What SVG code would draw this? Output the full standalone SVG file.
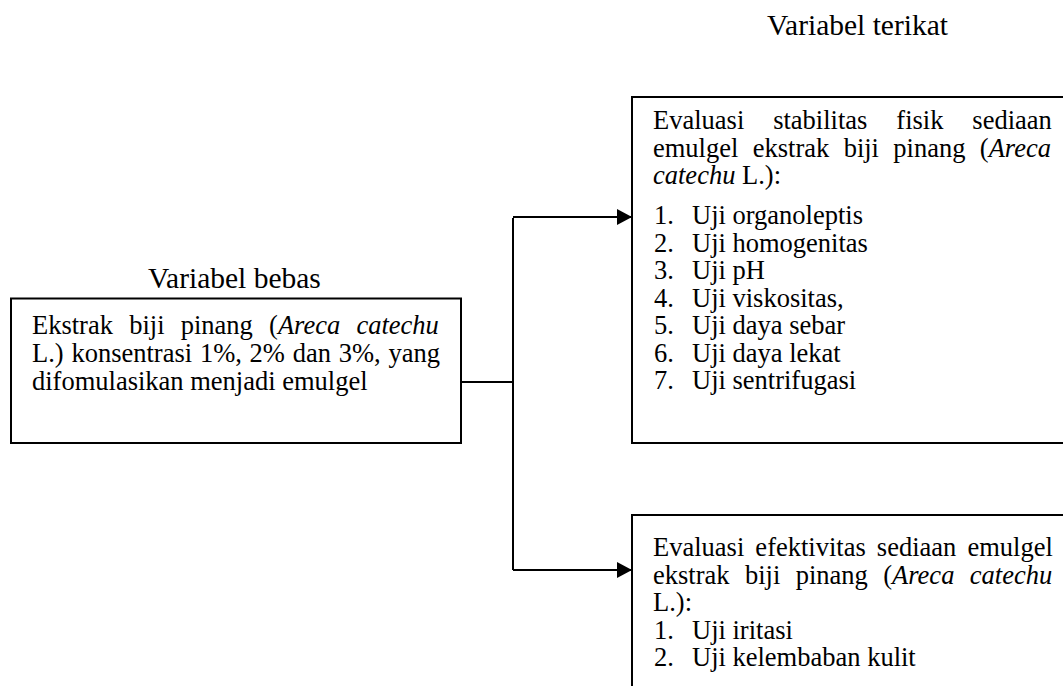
<svg xmlns="http://www.w3.org/2000/svg" width="1063" height="686" viewBox="0 0 1063 686">
<style>
text{font-family:"Liberation Serif","Times New Roman",serif;font-size:26.5px;fill:#000}
.lbl{font-size:29.5px}
.i{font-style:italic}
.box{fill:#fff;stroke:#000;stroke-width:2}
.ln{fill:none;stroke:#000;stroke-width:2}
</style>
<defs>
<marker id="ah" markerUnits="userSpaceOnUse" markerWidth="16" markerHeight="18" refX="15" refY="8" orient="auto">
<path d="M0,0 L15,8 L0,16 z" fill="#000"/>
</marker>
</defs>
<g id="label-terikat"><text class="lbl" x="767" y="35">Variabel terikat</text></g>
<g id="label-bebas"><text class="lbl" x="148" y="288">Variabel bebas</text></g>
<g id="node-bebas">
<rect class="box" x="11" y="298.5" width="450" height="144.5"/>
<text x="32" y="334" word-spacing="9.6">Ekstrak biji pinang (<tspan class="i">Areca catechu</tspan></text>
<text x="32" y="362" word-spacing="1.15">L.) konsentrasi 1%, 2% dan 3%, yang</text>
<text x="32" y="390">difomulasikan menjadi emulgel</text>
</g>
<g id="node-stabilitas">
<rect class="box" x="632" y="97" width="460" height="346"/>
<text x="653" y="129" word-spacing="22.3">Evaluasi stabilitas fisik sediaan</text>
<text x="653" y="156.5" word-spacing="7.75">emulgel ekstrak biji pinang (<tspan class="i">Areca</tspan></text>
<text x="653" y="184"><tspan class="i">catechu</tspan> L.):</text>
<text y="224"><tspan x="654">1.</tspan><tspan x="692">Uji organoleptis</tspan></text>
<text y="251.5"><tspan x="654">2.</tspan><tspan x="692">Uji homogenitas</tspan></text>
<text y="279"><tspan x="654">3.</tspan><tspan x="692">Uji pH</tspan></text>
<text y="306.5"><tspan x="654">4.</tspan><tspan x="692">Uji viskositas,</tspan></text>
<text y="334"><tspan x="654">5.</tspan><tspan x="692">Uji daya sebar</tspan></text>
<text y="361.5"><tspan x="654">6.</tspan><tspan x="692">Uji daya lekat</tspan></text>
<text y="389"><tspan x="654">7.</tspan><tspan x="692">Uji sentrifugasi</tspan></text>
</g>
<g id="node-efektivitas">
<rect class="box" x="632" y="515" width="460" height="230"/>
<text x="653" y="556" word-spacing="4.5">Evaluasi efektivitas sediaan emulgel</text>
<text x="653" y="583.5" word-spacing="8.8">ekstrak biji pinang (<tspan class="i">Areca catechu</tspan></text>
<text x="653" y="611">L.):</text>
<text y="638.5"><tspan x="654">1.</tspan><tspan x="692">Uji iritasi</tspan></text>
<text y="666"><tspan x="654">2.</tspan><tspan x="692">Uji kelembaban kulit</tspan></text>
</g>
<g id="connectors">
<path class="ln" d="M461,382 H513"/>
<path class="ln" d="M513,218 V570"/>
<path class="ln" d="M513,217 H632" marker-end="url(#ah)"/>
<path class="ln" d="M513,570 H632" marker-end="url(#ah)"/>
</g>
</svg>
